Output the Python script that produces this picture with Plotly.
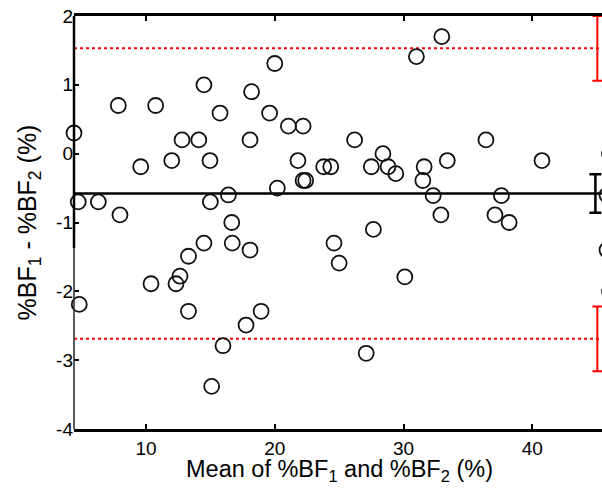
import plotly.graph_objects as go

# Bland-Altman data: mean of %BF1 and %BF2 (x) and difference (y)
mean_bf = [4.41, 7.85, 10.75, 14.5, 18.2, 15.75, 9.59, 12.0, 12.8, 14.1, 14.97, 18.08,
           4.74, 6.3, 7.98, 15.0, 16.4, 16.66, 20.0, 19.6, 21.06, 22.2, 26.2, 21.8,
           23.8, 24.35, 22.2, 22.4, 20.2, 28.4, 27.5, 28.8, 29.4, 31.6, 31.5, 32.3,
           32.9, 31.0, 32.97, 33.4, 36.4, 40.75, 37.6, 37.1, 38.2, 14.5, 16.7, 18.08,
           13.3, 12.64, 12.33, 10.39, 4.82, 13.3, 18.94, 17.77, 15.98, 15.1, 27.66,
           24.6, 25.0, 30.1, 27.1, 45.8, 45.8, 46.0, 46.0]
diff_bf = [0.30, 0.70, 0.70, 1.00, 0.90, 0.59, -0.19, -0.10, 0.20, 0.20, -0.10, 0.20,
           -0.70, -0.70, -0.89, -0.70, -0.60, -1.00, 1.31, 0.59, 0.40, 0.40, 0.20, -0.10,
           -0.19, -0.19, -0.39, -0.39, -0.50, 0.00, -0.19, -0.19, -0.29, -0.19, -0.39, -0.61,
           -0.89, 1.41, 1.70, -0.10, 0.20, -0.10, -0.61, -0.89, -1.00, -1.30, -1.30, -1.40,
           -1.49, -1.78, -1.89, -1.89, -2.19, -2.29, -2.29, -2.49, -2.79, -3.38, -1.10,
           -1.30, -1.59, -1.79, -2.90, -0.60, -1.40, 0.00, -2.00]

bias = -0.58
loa_upper = 1.53
loa_lower = -2.69
bias_ci = 0.28
loa_ci = 0.47
ci_x_bias = 44.9
ci_x_loa = 45.05

# plot area runs past the right edge of the visible window (cropped figure)
x_range = [4.41, 46.81]
y_range = [-4, 2]
x_ticks = [10, 20, 30, 40]
x_ticklabels = ["10", "20", "30", "40"]
y_ticks = [-4, -3, -2, -1, 0, 1, 2]
y_ticklabels = ["-4", "-3", "-2", "-1", "0", "1", "2"]
x_title = "Mean of %BF<sub>1</sub> and %BF<sub>2</sub> (%)"
y_title = "%BF<sub>1</sub> - %BF<sub>2</sub> (%)"

FONT = "Liberation Sans, Arial, sans-serif"

fig = go.Figure()

# red CI error bars on limits of agreement
fig.add_trace(go.Scatter(
    x=[ci_x_loa, ci_x_loa], y=[loa_upper, loa_lower], mode="markers",
    marker=dict(size=1, color="rgba(0,0,0,0)"),
    error_y=dict(type="data", array=[loa_ci, loa_ci], color="#ff0000", thickness=2, width=5),
    cliponaxis=False, showlegend=False, hoverinfo="skip"))

# black CI error bar on bias
fig.add_trace(go.Scatter(
    x=[ci_x_bias], y=[bias], mode="markers",
    marker=dict(size=1, color="rgba(0,0,0,0)"),
    error_y=dict(type="data", array=[bias_ci], color="#000000", thickness=2.5, width=6),
    cliponaxis=False, showlegend=False, hoverinfo="skip"))

# data points
fig.add_trace(go.Scatter(
    x=mean_bf, y=diff_bf, mode="markers",
    marker=dict(symbol="circle-open", size=15, color="#111111", line=dict(width=1.8, color="#111111")),
    cliponaxis=False, showlegend=False))

shapes = [
    dict(type="line", xref="paper", x0=0, x1=1, yref="y", y0=bias, y1=bias,
         line=dict(color="#000000", width=2.5), layer="below"),
    dict(type="line", xref="paper", x0=0, x1=1, yref="y", y0=loa_upper, y1=loa_upper,
         line=dict(color="#ff0000", width=2, dash="dot"), layer="below"),
    dict(type="line", xref="paper", x0=0, x1=1, yref="y", y0=loa_lower, y1=loa_lower,
         line=dict(color="#ff0000", width=2, dash="dot"), layer="below"),
    # left axis: dark upper part, thinner grey lower part
    dict(type="line", xref="paper", x0=0, x1=0, yref="y", y0=y_range[1], y1=-1.37,
         line=dict(color="#000000", width=2.5)),
    dict(type="line", xref="paper", x0=0, x1=0, yref="y", y0=-1.37, y1=y_range[0],
         line=dict(color="#333333", width=1.6)),
]

fig.update_layout(
    width=620, height=488,
    margin=dict(l=74, r=0, t=16, b=59),
    paper_bgcolor="white", plot_bgcolor="white",
    font=dict(family=FONT, size=19, color="#000000"),
    shapes=shapes,
    annotations=[dict(text=x_title, xref="paper", yref="paper", x=0.487, y=-0.064,
                      xanchor="center", yanchor="top", showarrow=False, borderpad=0,
                      font=dict(size=23.5, family=FONT, color="#000000"))],
    xaxis=dict(range=x_range, tickmode="array", tickvals=x_ticks, ticktext=x_ticklabels,
               ticks="inside", ticklen=5, tickwidth=1.5, tickcolor="#000000",
               showline=True, linewidth=2.5, linecolor="#000000", mirror="ticks",
               showgrid=False, zeroline=False),
    yaxis=dict(range=y_range, tickmode="array", tickvals=y_ticks, ticktext=y_ticklabels,
               ticks="inside", ticklen=5, tickwidth=1.5, tickcolor="#000000",
               showline=False, showgrid=False, zeroline=False,
               title=dict(text=y_title, font=dict(size=25), standoff=12)),
)

fig.write_html(
    "out.html",
    config={"displayModeBar": False},
    post_script="document.body.style.margin='0';document.documentElement.style.overflow='hidden';document.body.style.overflow='hidden';",
)
